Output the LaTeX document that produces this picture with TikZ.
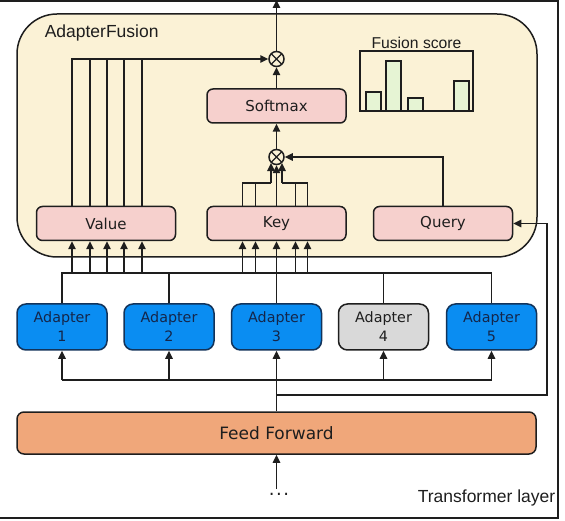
\documentclass[tikz,border=0pt]{standalone}
\usepackage{fontspec}
\newfontfamily\dv{DejaVu Sans}
\newfontfamily\ls{Liberation Sans}
\usetikzlibrary{arrows.meta,calc}
\definecolor{fusebg}{HTML}{FBF2D6}
\definecolor{pinkfill}{HTML}{F6D0CD}
\definecolor{adblue}{HTML}{0A8DF2}
\definecolor{adborder}{HTML}{12335A}
\definecolor{adtext}{HTML}{14264A}
\definecolor{adgray}{HTML}{D9D9D9}
\definecolor{fforange}{HTML}{F0A77A}
\definecolor{barfill}{HTML}{E6F4D4}
\definecolor{ink}{HTML}{1E1E1E}
\begin{document}
\begin{tikzpicture}[x=1pt,y=-1pt,line width=1.5pt,draw=ink,
  arr/.style={-{Triangle[length=8pt,width=7.5pt]}},
  pinkbox/.style={draw=ink,fill=pinkfill,rounded corners=6pt,minimum width=139pt,minimum height=34pt,inner sep=0pt,text=ink,font=\dv\fontsize{15}{18}\selectfont},
  adbox/.style={draw=adborder,fill=adblue,rounded corners=9pt,minimum width=90pt,minimum height=46pt,inner sep=0pt,align=center,text=adtext,font=\dv\fontsize{14.3}{19}\selectfont},
  graybox/.style={adbox,draw=ink,fill=adgray,text=ink},
  mult/.style={circle,draw=ink,fill=fusebg,minimum size=15pt,inner sep=0pt,
    path picture={\draw[line width=1.1pt,ink] (path picture bounding box.north west) -- (path picture bounding box.south east) (path picture bounding box.north east) -- (path picture bounding box.south west);}},
  lbl/.style={text=ink,font=\ls\fontsize{17.5}{20}\selectfont,inner sep=0pt}
]
\useasboundingbox (0,0) rectangle (565,521);
% outer transformer layer frame
\draw[line width=1.6pt] (0,1) -- (558,1) -- (558,518) -- (0,518);
\node[lbl,anchor=base east] (tl) at (556,502) {Transformer layer};

% AdapterFusion container
\node[draw=ink,fill=fusebg,rounded corners=40pt,minimum width=520pt,minimum height=243pt,inner sep=0pt] (fusion) at (277,135.5) {};
\node[lbl,anchor=base west] (aflab) at (44,38) {AdapterFusion};

% fusion score chart
\node[draw=ink,minimum width=113pt,minimum height=60pt,inner sep=0pt] (chart) at (416.5,81) {};
\node[text=ink,font=\ls\fontsize{15.7}{18}\selectfont,inner sep=0pt,anchor=base] (fslab) at (416.5,49) {Fusion score};
\draw[line width=1.2pt,fill=barfill] (366,111) rectangle (381,92);
\draw[line width=1.2pt,fill=barfill] (386,111) rectangle (401,61);
\draw[line width=1.2pt,fill=barfill] (408,111) rectangle (423,98);
\draw[line width=1.2pt,fill=barfill] (454,111) rectangle (469,81);

% pink boxes
\node[pinkbox] (Value) at (106,223.5) {Value};
\node[pinkbox] (Key) at (276.5,223.5) {Key};
\node[pinkbox] (Query) at (443,223.5) {Query};
\node[pinkbox] (Softmax) at (276.5,106) {Softmax};
\node[mult] (m1) at (276.5,59) {};
\node[mult] (m2) at (276.5,157) {};

% adapters
\node[adbox] (A1) at (62,327) {Adapter\\1};
\node[adbox] (A2) at (169,327) {Adapter\\2};
\node[adbox] (A3) at (276.5,327) {Adapter\\3};
\node[graybox] (A4) at (383.5,327) {Adapter\\4};
\node[adbox] (A5) at (491.5,327) {Adapter\\5};

% feed forward
\node[draw=ink,fill=fforange,rounded corners=7pt,minimum width=519pt,minimum height=42pt,inner sep=0pt,text=ink,font=\dv\fontsize{17}{20}\selectfont] (FF) at (276.5,433) {Feed Forward};
\node[text=ink,font=\dv\fontsize{18}{20}\selectfont,inner sep=0pt] (dots) at (279,494) {.\kern1.6pt.\kern1.6pt.};

% helper coordinates
\coordinate (topout) at (276.5,0);
\coordinate (vt) at (72,59);
\coordinate (busL) at (62,273);
\coordinate (busR) at (491.5,273);
\coordinate (lbL) at (62,380);
\coordinate (lbR) at (491.5,380);
\coordinate (fb) at (276.5,395);
\coordinate (fr) at (547,395);
\coordinate (din) at (276.5,489);
\coordinate (kjL) at (271,183);
\coordinate (kjR) at (282,183);
\foreach \o/\n in {-34/1,-16/2,1/3,18/4,36/5}{
  \path (Value.north) ++(\o,0) coordinate (vt\n);
  \path (Value.south) ++(\o,0) coordinate (vb\n);
}
\foreach \o/\n in {-34/1,-21/2,0/3,19/4,31/5}{
  \path (Key.north) ++(\o,0) coordinate (kt\n);
  \path (Key.south) ++(\o,0) coordinate (kb\n);
}

% top part
\draw[arr] (m1) -- (topout);
\draw[arr] (Softmax) -- (m1);
\draw[arr] (m2) -- (Softmax);
\draw[arr] (vt1) |- (m1.west);
\foreach \n in {2,3,4,5} \draw (vt\n) |- (vt);
\draw (kt1) |- (kjL);
\draw (kt2) |- (kjL);
\draw (kt4) |- (kjR);
\draw (kt5) |- (kjR);
\draw[arr] (kjL) -- (kjL |- m2.228);
\draw[arr] (kjR) -- (kjR |- m2.312);
\draw[arr] (kt3) -- (m2.south);
\draw[arr] (Query.north) |- (m2.east);

% adapter outputs
\draw (A1.north) |- (busR) -- (A5.north);
\draw (A2.north) -- (A2.north |- busL);
\draw (A4.north) -- (A4.north |- busL);
\foreach \n in {1,2,3,4,5} \draw[arr] (vb\n |- busL) -- (vb\n);
\foreach \n in {1,2,4,5} \draw[arr] (kb\n |- busL) -- (kb\n);
\draw[arr] (A3.north) -- (kb3);

% adapter inputs
\draw[arr] (FF.north) -- (A3.south);
\draw (lbL) -- (lbR);
\draw[arr] (lbL) -- (A1.south);
\draw[arr] (A2.south |- lbL) -- (A2.south);
\draw[arr] (A4.south |- lbL) -- (A4.south);
\draw[arr] (lbR) -- (A5.south);
\draw[arr] (fb) -- (fr) |- (Query.east);
\draw[arr] (din) -- (FF.south);
\end{tikzpicture}
\end{document}
